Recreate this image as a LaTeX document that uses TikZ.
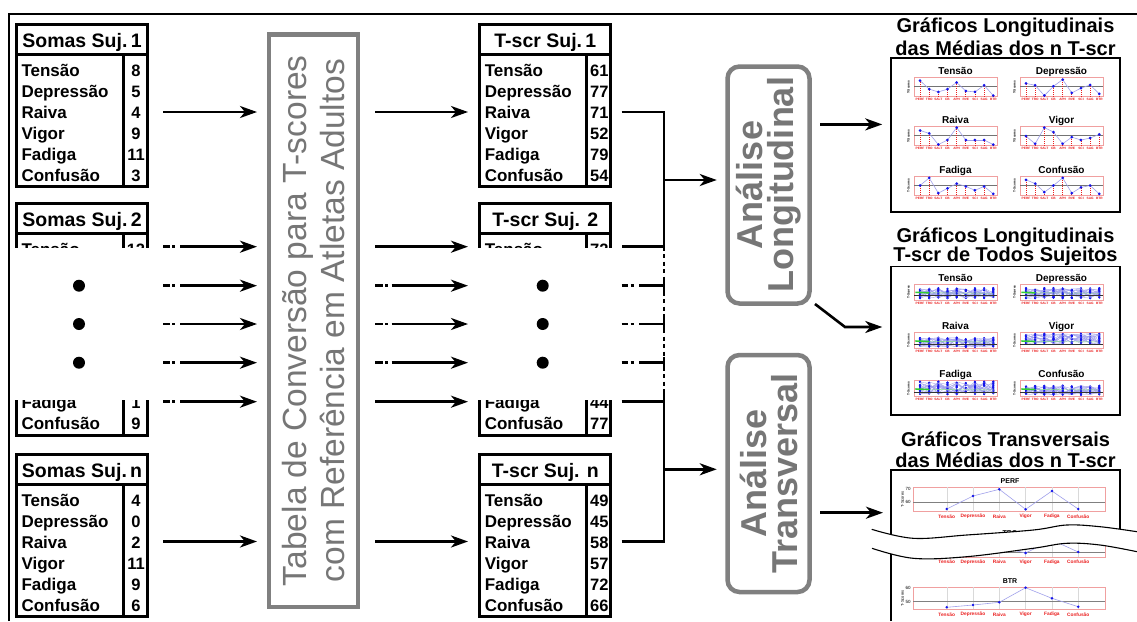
\documentclass[tikz,border=0pt]{standalone}
\usepackage{fontspec}
\setmainfont{Liberation Sans}
\usetikzlibrary{arrows.meta}
\definecolor{boxgray}{RGB}{128,128,128}
\definecolor{txtgray}{RGB}{118,118,118}
\definecolor{lineblue}{RGB}{160,160,235}
\definecolor{plotred}{RGB}{235,30,30}
\definecolor{framered}{RGB}{240,160,160}
\definecolor{ggreen}{RGB}{50,205,50}
\definecolor{dotblue}{RGB}{20,20,235}

\tikzset{
  tbl/.style={draw=black, line width=3pt, inner sep=0pt, outer sep=0pt, minimum width=131pt, minimum height=162.5pt},
  tline/.style={line width=3pt},
  hdr/.style={font=\bfseries\fontsize{19.5}{20}\selectfont, inner sep=0pt, anchor=base},
  rowtxt/.style={font=\bfseries\fontsize{17}{17}\selectfont, inner sep=0pt},
  numtxt/.style={font=\bfseries\fontsize{16.5}{17}\selectfont, inner sep=0pt, anchor=base},
  conn/.style={line width=2.6pt},
  arr/.style={line width=2.6pt, -{Stealth[length=17pt,width=12pt,inset=5pt]}},
  vdots/.style={line width=2.6pt, dash pattern=on 4pt off 3.5pt},
  bigdot/.style={circle, fill=black, inner sep=0pt, minimum size=12pt},
  convbox/.style={draw=boxgray, line width=4.5pt, inner sep=0pt, rotate=90, text=txtgray, align=center, font=\fontsize{33.5}{38}\selectfont},
  anbox/.style={draw=boxgray, line width=4.5pt, rounded corners=12pt, inner sep=0pt, rotate=90, text=txtgray, align=center, font=\bfseries\fontsize{36}{31}\selectfont, minimum width=237pt, minimum height=82pt},
  pbox/.style={draw=black, line width=1.5pt, inner sep=0pt},
  ptit/.style={font=\bfseries\fontsize{20}{22}\selectfont, inner sep=0pt, anchor=base},
  mtit/.style={font=\bfseries\fontsize{10}{11}\selectfont, inner sep=0pt, anchor=base},
  mframe/.style={draw=framered, line width=0.5pt, inner sep=0pt},
  midline/.style={draw=black!55, line width=0.6pt},
  stemline/.style={draw=plotred, line width=0.8pt, dash pattern=on 1.2pt off 0.8pt},
  pline/.style={draw=lineblue, line width=0.6pt},
  aline/.style={draw=lineblue, line width=0.35pt},
  pdot/.style={fill=dotblue},
  tinylab/.style={font=\bfseries\fontsize{3.2}{3.5}\selectfont, text=plotred, inner sep=0pt},
  ylab/.style={font=\bfseries\fontsize{3.2}{3.5}\selectfont, rotate=90, inner sep=0pt},
  ttit/.style={font=\bfseries\fontsize{7}{8}\selectfont, inner sep=0pt, anchor=base},
  tlab/.style={font=\bfseries\fontsize{4.8}{5}\selectfont, text=plotred, inner sep=0pt},
  ttick/.style={font=\fontsize{4.5}{5}\selectfont, inner sep=0pt},
}

% full data table: name, left x, top y, header, values
\newcommand{\datatable}[5]{%
  \node[tbl] (#1) at ({#2+65.5},{#3+81.25}) {};
  \draw[tline] (#2,{#3+30.7}) -- ({#2+131},{#3+30.7});
  \draw[tline] ({#2+106.5},{#3+30.7}) -- ({#2+106.5},{#3+162.5});
  \node[hdr] (#1h) at ({#2+65.5},{#3+23}) {#4};
  \foreach \lab [count=\r] in {Tensão,Depressão,Raiva,Vigor,Fadiga,Confusão}
    \node[rowtxt, anchor=base west] (#1l\r) at ({#2+4.8},{#3+52+(\r-1)*21}) {\lab};
  \foreach \val [count=\r] in {#5}
    \node[numtxt] (#1v\r) at ({#2+119.5},{#3+52+(\r-1)*21}) {\val};
}
% cut table of subject 2: name, left x, header, v1, v5, v6
\newcommand{\midtable}[6]{%
  \node[tbl, minimum height=232.5pt] (#1) at ({#2+65.5},319.25) {};
  \draw[tline] (#2,233.5) -- ({#2+131},233.5);
  \draw[tline] ({#2+106.5},233.5) -- ({#2+106.5},435.5);
  \node[hdr] (#1h) at ({#2+65.5},226) {#3};
  \node[rowtxt, anchor=base west] (#1l1) at ({#2+4.8},255) {Tensão};
  \node[numtxt] (#1v1) at ({#2+119.5},255) {#4};
  \node[rowtxt, anchor=base west] (#1l5) at ({#2+4.8},408.6) {Fadiga};
  \node[numtxt] (#1v5) at ({#2+119.5},408.6) {#5};
  \node[rowtxt, anchor=base west] (#1l6) at ({#2+4.8},429.6) {Confusão};
  \node[numtxt] (#1v6) at ({#2+119.5},429.6) {#6};
  \fill[white] ({#2-4.5},248) rectangle ({#2+135.5},399.5);
}
% longitudinal means plot: name, x0, y0, title, values
\newcommand{\lplot}[5]{%
  \node[mtit] (#1t) at ({#2+41.5},{#3-3}) {#4};
  \node[mframe, minimum width=83pt, minimum height=19pt] (#1) at ({#2+41.5},{#3+9.5}) {};
  \draw[midline] (#2,{#3+9}) -- ({#2+83},{#3+9});
  \begin{scope}[shift={({#2-3.16},{#3+19})}, x=9.16pt, y=19pt]
    \foreach \v [count=\i, remember=\v as \pv (initially 0)] in {#5} {
      \draw[stemline] (\i,0) -- (\i,\v);
      \ifnum\i>1 \draw[pline] ({\i-1},\pv) -- (\i,\v);\fi
    }
    \foreach \v [count=\i] in {#5} \fill[pdot] (\i,\v) circle[radius=1.5pt];
  \end{scope}
  \foreach \lab [count=\i] in {PERF,TRO,SALT,CB,APH,RVE,SCI,SAG,BTR}
    \node[tinylab] (#1x\i) at ({#2+6+(\i-1)*9.16},{#3+22}) {\lab};
  \node[ylab] (#1y) at ({#2-5.5},{#3+9.5}) {T-Scores};
}
% longitudinal all-subjects plot: name, x0, y0, title, seed, lo, hi
\newcommand{\aplot}[7]{%
  \node[mtit] (#1t) at ({#2+41.5},{#3-3}) {#4};
  \node[mframe, minimum width=83pt, minimum height=16pt] (#1) at ({#2+41.5},{#3+8}) {};
  \begin{scope}[shift={({#2-3.16},{#3+16})}, x=9.16pt, y=16pt]
    \foreach \k in {1,...,16} {
      \pgfmathtruncatemacro\sd{#5*37+\k}
      \pgfmathsetseed{\sd}
      \draw[aline] plot[samples at={1,...,9}] (\x,{#6+(#7-#6)*rnd});
      \pgfmathsetseed{\sd}
      \path[color=dotblue] plot[only marks, mark=*, mark size=0.85pt, samples at={1,...,9}] (\x,{#6+(#7-#6)*rnd});
    }
    \draw[black!80, line width=0.8pt] (0.345,0.3) -- (9.4,0.3);
    \draw[ggreen!60, line width=0.4pt] (2,0.45) -- (9,0.42);
    \draw[ggreen, line width=1.6pt] (0.5,0.48) -- (2,0.45);
  \end{scope}
  \foreach \lab [count=\i] in {PERF,TRO,SALT,CB,APH,RVE,SCI,SAG,BTR}
    \node[tinylab] (#1x\i) at ({#2+6+(\i-1)*9.16},{#3+19}) {\lab};
  \node[ylab] (#1y) at ({#2-5.5},{#3+8}) {T-Scores};
}
% transversal plot: name, top, bottom, title, point ys, grey line y, ticks
\newcommand{\tplot}[7]{%
  \node[ttit] (#1t) at (1010,{#2-4}) {#4};
  \node[draw=framered, line width=0.5pt, inner sep=0pt, minimum width=192pt, minimum height={#3-#2}] (#1) at (1009,{(#2+#3)/2}) {};
  \foreach \j in {0,...,5} \draw[gray!30, line width=0.4pt] ({946.7+\j*26.3},#2) -- ({946.7+\j*26.3},#3);
  \draw[black!50, line width=0.7pt] (913,#6) -- (1105,#6);
  \foreach \yv [count=\j, remember=\yv as \py (initially 0)] in {#5} {
    \ifnum\j>1 \draw[pline] ({946.7+(\j-2)*26.3},\py) -- ({946.7+(\j-1)*26.3},\yv);\fi
  }
  \foreach \yv [count=\j] in {#5} \fill[pdot] ({946.7+(\j-1)*26.3},\yv) circle[radius=1.4pt];
  \foreach \lab [count=\j] in {Tensão,Depressão,Raiva,Vigor,Fadiga,Confusão}
    \node[tlab] (#1x\j) at ({946.7+(\j-1)*26.3},{#3+5}) {\lab};
  \foreach \tl/\ty [count=\j] in {#7} \node[ttick] (#1k\j) at (908,\ty) {\tl};
  \node[ylab, font=\fontsize{4}{4}\selectfont] (#1y) at (902.5,{(#2+#3)/2}) {T-Scores};
}

\begin{document}
\begin{tikzpicture}[x=1pt,y=-1pt]
\useasboundingbox (0,0) rectangle (1137,621);
\fill[white] (0,0) rectangle (1137,621);
% outer frame
\draw[line width=2pt] (9,621) -- (9,13.7) -- (1137,13.7);

% tables
\datatable{S1}{16.5}{24}{Somas Suj.\,1}{8,5,4,9,11,3}
\midtable{S2}{16.5}{Somas Suj.\,2}{12}{1}{9}
\datatable{Sn}{16.5}{454}{Somas Suj.\,n}{4,0,2,11,9,6}
\datatable{R1}{479.8}{24}{T-scr Suj.\,1}{61,77,71,52,79,54}
\midtable{R2}{479.8}{T-scr Suj. 2}{72}{44}{77}
\datatable{Rn}{479.8}{454}{T-scr Suj. n}{49,45,58,57,72,66}

% ellipsis dots
\foreach \n/\y in {1/285.7,2/324,3/362.7} {
  \node[bigdot] (dl\n) at (79,\y) {};
  \node[bigdot] (dr\n) at (542.7,\y) {};
}

% conversion table box
\node[convbox, minimum width=572.5pt, minimum height=89.3pt] (conv) at (313.4,320.7)
  {Tabela de Conversão para T-scores\\com Referência em Atletas Adultos};

% analysis boxes
\node[anbox] (long) at (768.5,185) {Análise\\Longitudinal};
\node[anbox] (trans) at (768.5,473.5) {Análise\\Transversal};

% connector coordinates
\foreach \n/\y in {1/112,2/246.7,3/285.7,4/324,5/362.7,6/401.7,7/541.5} {
  \coordinate (ls\n) at (163,\y);   \coordinate (le\n) at (257,\y);
  \coordinate (ms\n) at (375,\y);   \coordinate (me\n) at (468,\y);
  \coordinate (rs\n) at (621.7,\y); \coordinate (re\n) at (664,\y);
}
% tables -> conversion
\draw[arr] (ls1) -- (le1);
\draw[arr] (ls7) -- (le7);
\foreach \n in {2,...,6} {
  \draw[conn] (ls\n) -- ++(7,0);
  \draw[conn] ([xshift=9pt]ls\n) -- ++(3.3,0);
  \draw[arr] ([xshift=17pt]ls\n) -- (le\n);
}
% conversion -> T-score tables
\foreach \n in {1,2,6,7} \draw[arr] (ms\n) -- (me\n);
\foreach \n in {3,4,5} {
  \draw[conn] (ms\n) -- ++(8.3,0);
  \draw[conn] ([xshift=10pt]ms\n) -- ++(3.3,0);
  \draw[arr] ([xshift=16.7pt]ms\n) -- (me\n);
}
% T-score tables -> collector
\coordinate (vb) at (664,392);
\draw[conn, line join=miter] (rs1) -- (re1) -- (re2) -- (rs2);
\draw[vdots] (re2) -- (vb);
\draw[conn, line join=miter] (rs7) -- (re7) -- (vb);
\draw[conn] (rs6) -- (re6);
\foreach \n in {3,4,5} {
  \draw[conn] (rs\n) -- ++(6.6,0);
  \draw[conn] ([xshift=9pt]rs\n) -- ++(3.3,0);
  \draw[conn] ([xshift=17.3pt]rs\n) -- (re\n);
  \draw[conn] ([yshift=6pt]re\n) -- ([yshift=-6pt]re\n);
}
\coordinate (jl) at (664,180);
\coordinate (jt) at (664,469.3);
\draw[arr] (jl) -- ([xshift=-8.5pt]long.north |- jl);
\draw[arr] (jt) -- ([xshift=-8.5pt]trans.north |- jt);

% right panels
\node[pbox, minimum width=229pt, minimum height=154pt] (P1) at (1005.5,135) {};
\node[pbox, minimum width=229pt, minimum height=148.3pt] (P2) at (1005.5,340.85) {};
\draw[line width=1.5pt] (891,621) -- (891,470) -- (1120,470) -- (1120,540);
\coordinate (p3w) at (891,512.7);

\node[ptit] (g1a) at (1005.5,32.7) {Gráficos Longitudinais};
\node[ptit] (g1b) at (1005.5,55.5) {das Médias dos n T-scr};
\node[ptit] (g2a) at (1005.5,242.2) {Gráficos Longitudinais};
\node[ptit] (g2b) at (1005.5,261.5) {T-scr de Todos Sujeitos};
\node[ptit] (g3a) at (1005.5,446.7) {Gráficos Transversais};
\node[ptit] (g3b) at (1005.5,467) {das Médias dos n T-scr};

% analysis -> panels
\coordinate (o1) at (820,124.4);
\coordinate (o2) at (815,304);
\coordinate (k2) at (845,327);
\coordinate (o3) at (820,512.7);
\draw[arr] (o1) -- ([xshift=-8pt]P1.west |- o1);
\draw[arr] (o2) -- (k2) -- ([xshift=-8pt]P2.west |- k2);
\draw[arr] (o3) -- ([xshift=-8pt]p3w);

% panel 1 plots
\lplot{L1}{914}{77.7}{Tensão}{0.85,0.4,0.25,0.4,0.75,0.3,0.25,0.6,0.06}
\lplot{L2}{1020}{77.7}{Depressão}{0.7,0.6,0.06,0.55,0.9,0.2,0.45,0.62,0.15}
\lplot{L3}{914}{126.7}{Raiva}{0.8,0.65,0.06,0.3,0.95,0.3,0.3,0.3,0.06}
\lplot{L4}{1020}{126.7}{Vigor}{0.5,0.1,0.95,0.72,0.1,0.45,0.3,0.4,0.6}
\lplot{L5}{914}{176}{Fadiga}{0.5,0.9,0.1,0.35,0.6,0.45,0.25,0.45,0.06}
\lplot{L6}{1020}{176}{Confusão}{0.8,0.6,0.15,0.5,0.9,0.1,0.4,0.5,0.06}

% panel 2 plots
\aplot{A1}{914}{284}{Tensão}{1}{0.1}{0.75}
\aplot{A2}{1020}{284}{Depressão}{2}{0.1}{0.75}
\aplot{A3}{914}{332.7}{Raiva}{3}{0.1}{0.7}
\aplot{A4}{1020}{332.7}{Vigor}{4}{0.3}{0.95}
\aplot{A5}{914}{380.7}{Fadiga}{5}{0.15}{0.95}
\aplot{A6}{1020}{380.7}{Confusão}{6}{0.1}{0.7}

% panel 3 plots
\tplot{T1}{487.3}{511.7}{PERF}{509,496,489.3,509.3,491,509}{502.7}{70/489.3,60/502.3}
\tplot{T2}{539}{557}{TRO}{546,543,547,553,540,552}{552.7}{60/547}
\tplot{T3}{587.3}{609.3}{BTR}{607.3,605,602.3,587.7,598.3,606.7}{601.7}{60/588,50/602}

% break marks
\fill[white] plot[smooth, tension=0.6] coordinates {(871.7,529.3) (913.3,538.3) (966.7,535) (1033.3,530) (1066.7,525) (1100,526.7) (1137,531.7)}
  -- plot[smooth, tension=0.6] coordinates {(1137,551.7) (1100,545) (1066.7,543.3) (1033,548.3) (966.7,556.7) (913.3,558.3) (872,548.3)} -- cycle;
\draw[line width=1.1pt] plot[smooth, tension=0.6] coordinates {(871.7,529.3) (913.3,538.3) (966.7,535) (1033.3,530) (1066.7,525) (1100,526.7) (1137,531.7)};
\draw[line width=1.1pt] plot[smooth, tension=0.6] coordinates {(872,548.3) (913.3,558.3) (966.7,556.7) (1033,548.3) (1066.7,543.3) (1100,545) (1137,551.7)};
\end{tikzpicture}
\end{document}
